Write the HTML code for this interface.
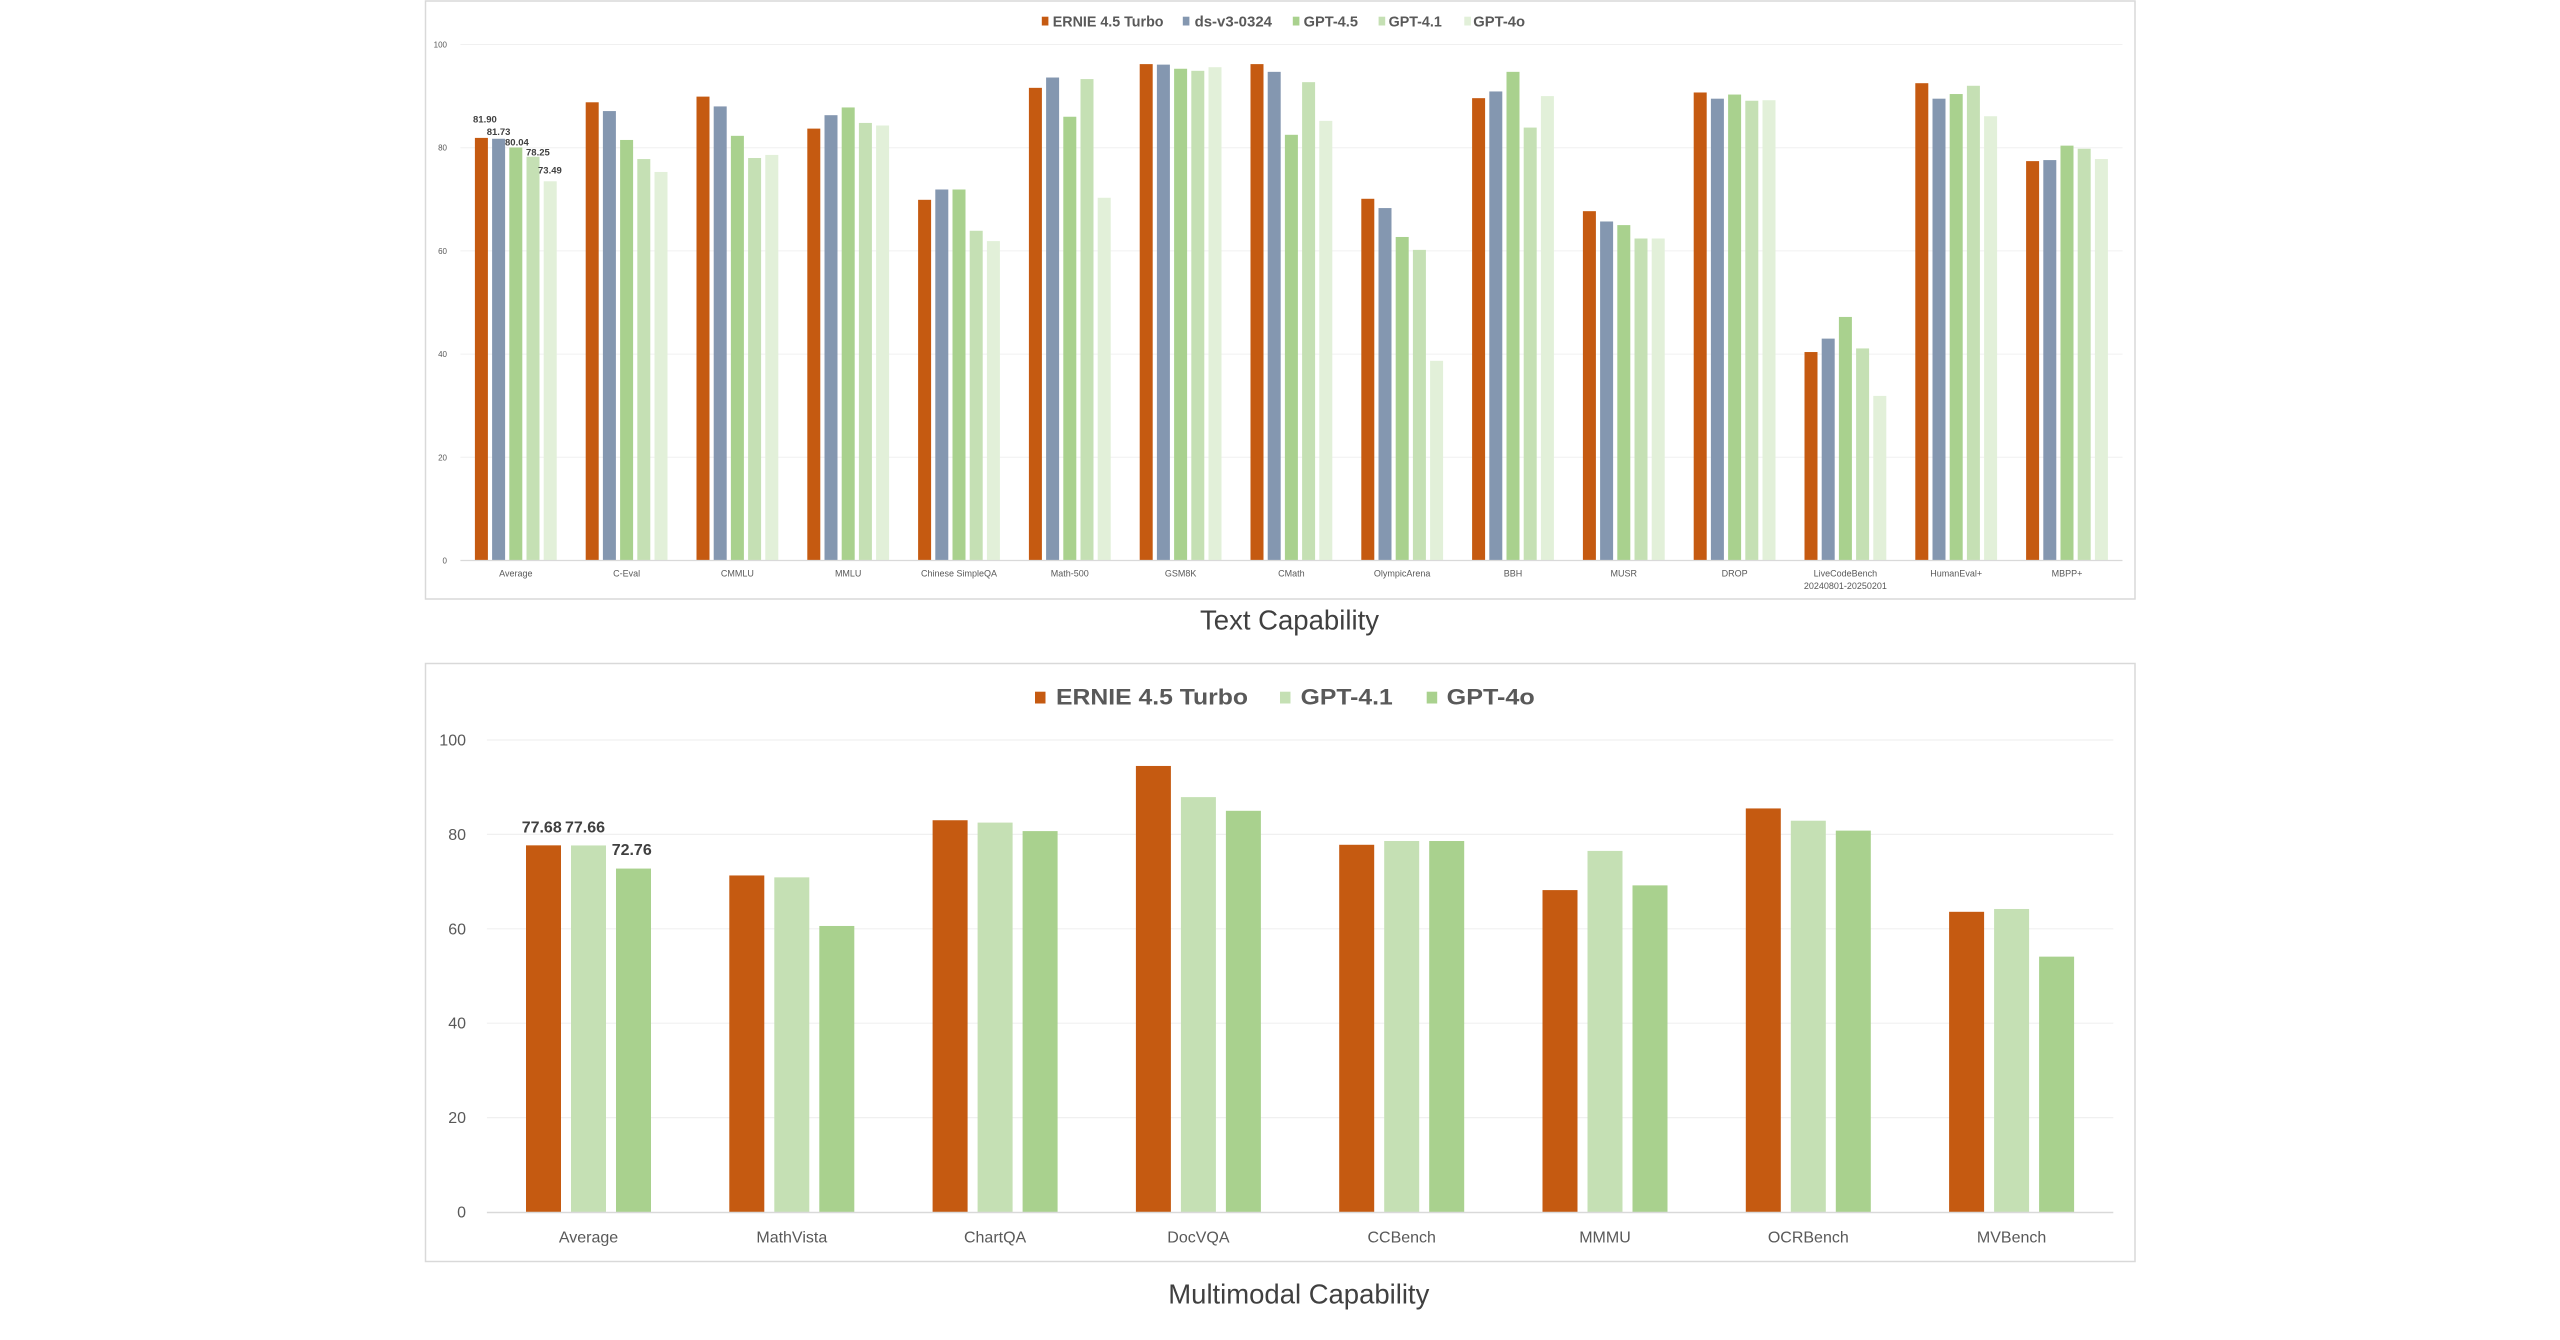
<!DOCTYPE html>
<html>
<head>
<meta charset="utf-8">
<style>
  html,body{margin:0;padding:0;background:#fff;}
  body{width:2560px;height:1340px;overflow:hidden;}
  svg{display:block;}
  text{font-family:"Liberation Sans", sans-serif;}
</style>
</head>
<body>
<svg width="2560" height="1340" viewBox="0 0 2560 1340" xmlns="http://www.w3.org/2000/svg">
  <rect x="0" y="0" width="2560" height="1340" fill="#ffffff"/>

  <!-- ================= TOP CHART ================= -->
  <rect x="425.5" y="1" width="1709.5" height="598" fill="#ffffff" stroke="#D9D9D9" stroke-width="1.5"/>

  <!-- gridlines -->
  <g stroke="#F0F0F0" stroke-width="1">
    <line x1="460.4" y1="44.5" x2="2122.5" y2="44.5"/>
    <line x1="460.4" y1="147.7" x2="2122.5" y2="147.7"/>
    <line x1="460.4" y1="250.9" x2="2122.5" y2="250.9"/>
    <line x1="460.4" y1="354.1" x2="2122.5" y2="354.1"/>
    <line x1="460.4" y1="457.3" x2="2122.5" y2="457.3"/>
  </g>

  <!-- y tick labels -->
  <g font-size="8" fill="#595959" text-anchor="end">
    <text x="447" y="47.5">100</text>
    <text x="447" y="150.7">80</text>
    <text x="447" y="253.9">60</text>
    <text x="447" y="357.1">40</text>
    <text x="447" y="460.3">20</text>
    <text x="447" y="563.5">0</text>
  </g>

  <!-- legend -->
  <g font-size="15" font-weight="bold" fill="#595959">
    <rect x="1041.8" y="16.7" width="6.6" height="8.8" fill="#C55A11"/>
    <text x="1052.8" y="26.5" textLength="110.7" lengthAdjust="spacingAndGlyphs">ERNIE 4.5 Turbo</text>
    <rect x="1182.8" y="16.7" width="6.6" height="8.8" fill="#8497B0"/>
    <text x="1194.6" y="26.5" textLength="77.4" lengthAdjust="spacingAndGlyphs">ds-v3-0324</text>
    <rect x="1292.8" y="16.7" width="6.6" height="8.8" fill="#A9D18E"/>
    <text x="1303.6" y="26.5" textLength="54.4" lengthAdjust="spacingAndGlyphs">GPT-4.5</text>
    <rect x="1378.6" y="16.7" width="6.6" height="8.8" fill="#C5E0B4"/>
    <text x="1388.6" y="26.5" textLength="53.2" lengthAdjust="spacingAndGlyphs">GPT-4.1</text>
    <rect x="1464.3" y="16.7" width="6.6" height="8.8" fill="#E2F0D9"/>
    <text x="1473.3" y="26.5" textLength="51.7" lengthAdjust="spacingAndGlyphs">GPT-4o</text>
  </g>

  <!-- bars (value units, scaled) -->
  <g>
    <g transform="translate(515.8,560.5) scale(1,-5.16)">
      <rect x="-40.9" y="0" width="13" height="81.90" fill="#C55A11"/>
      <rect x="-23.7" y="0" width="13" height="81.73" fill="#8497B0"/>
      <rect x="-6.5" y="0" width="13" height="80.04" fill="#A9D18E"/>
      <rect x="10.7" y="0" width="13" height="78.25" fill="#C5E0B4"/>
      <rect x="27.9" y="0" width="13" height="73.49" fill="#E2F0D9"/>
    </g>
    <g transform="translate(626.6,560.5) scale(1,-5.16)">
      <rect x="-40.9" y="0" width="13" height="88.8" fill="#C55A11"/>
      <rect x="-23.7" y="0" width="13" height="87.1" fill="#8497B0"/>
      <rect x="-6.5" y="0" width="13" height="81.5" fill="#A9D18E"/>
      <rect x="10.7" y="0" width="13" height="77.8" fill="#C5E0B4"/>
      <rect x="27.9" y="0" width="13" height="75.3" fill="#E2F0D9"/>
    </g>
    <g transform="translate(737.4,560.5) scale(1,-5.16)">
      <rect x="-40.9" y="0" width="13" height="89.9" fill="#C55A11"/>
      <rect x="-23.7" y="0" width="13" height="88.0" fill="#8497B0"/>
      <rect x="-6.5" y="0" width="13" height="82.3" fill="#A9D18E"/>
      <rect x="10.7" y="0" width="13" height="78.0" fill="#C5E0B4"/>
      <rect x="27.9" y="0" width="13" height="78.6" fill="#E2F0D9"/>
    </g>
    <g transform="translate(848.2,560.5) scale(1,-5.16)">
      <rect x="-40.9" y="0" width="13" height="83.7" fill="#C55A11"/>
      <rect x="-23.7" y="0" width="13" height="86.3" fill="#8497B0"/>
      <rect x="-6.5" y="0" width="13" height="87.8" fill="#A9D18E"/>
      <rect x="10.7" y="0" width="13" height="84.8" fill="#C5E0B4"/>
      <rect x="27.9" y="0" width="13" height="84.3" fill="#E2F0D9"/>
    </g>
    <g transform="translate(959.0,560.5) scale(1,-5.16)">
      <rect x="-40.9" y="0" width="13" height="69.9" fill="#C55A11"/>
      <rect x="-23.7" y="0" width="13" height="71.9" fill="#8497B0"/>
      <rect x="-6.5" y="0" width="13" height="71.9" fill="#A9D18E"/>
      <rect x="10.7" y="0" width="13" height="63.9" fill="#C5E0B4"/>
      <rect x="27.9" y="0" width="13" height="61.9" fill="#E2F0D9"/>
    </g>
    <g transform="translate(1069.8,560.5) scale(1,-5.16)">
      <rect x="-40.9" y="0" width="13" height="91.6" fill="#C55A11"/>
      <rect x="-23.7" y="0" width="13" height="93.6" fill="#8497B0"/>
      <rect x="-6.5" y="0" width="13" height="86.0" fill="#A9D18E"/>
      <rect x="10.7" y="0" width="13" height="93.3" fill="#C5E0B4"/>
      <rect x="27.9" y="0" width="13" height="70.3" fill="#E2F0D9"/>
    </g>
    <g transform="translate(1180.6,560.5) scale(1,-5.16)">
      <rect x="-40.9" y="0" width="13" height="96.2" fill="#C55A11"/>
      <rect x="-23.7" y="0" width="13" height="96.1" fill="#8497B0"/>
      <rect x="-6.5" y="0" width="13" height="95.3" fill="#A9D18E"/>
      <rect x="10.7" y="0" width="13" height="94.9" fill="#C5E0B4"/>
      <rect x="27.9" y="0" width="13" height="95.6" fill="#E2F0D9"/>
    </g>
    <g transform="translate(1291.4,560.5) scale(1,-5.16)">
      <rect x="-40.9" y="0" width="13" height="96.2" fill="#C55A11"/>
      <rect x="-23.7" y="0" width="13" height="94.7" fill="#8497B0"/>
      <rect x="-6.5" y="0" width="13" height="82.5" fill="#A9D18E"/>
      <rect x="10.7" y="0" width="13" height="92.7" fill="#C5E0B4"/>
      <rect x="27.9" y="0" width="13" height="85.2" fill="#E2F0D9"/>
    </g>
    <g transform="translate(1402.2,560.5) scale(1,-5.16)">
      <rect x="-40.9" y="0" width="13" height="70.1" fill="#C55A11"/>
      <rect x="-23.7" y="0" width="13" height="68.3" fill="#8497B0"/>
      <rect x="-6.5" y="0" width="13" height="62.7" fill="#A9D18E"/>
      <rect x="10.7" y="0" width="13" height="60.2" fill="#C5E0B4"/>
      <rect x="27.9" y="0" width="13" height="38.7" fill="#E2F0D9"/>
    </g>
    <g transform="translate(1513.0,560.5) scale(1,-5.16)">
      <rect x="-40.9" y="0" width="13" height="89.6" fill="#C55A11"/>
      <rect x="-23.7" y="0" width="13" height="90.9" fill="#8497B0"/>
      <rect x="-6.5" y="0" width="13" height="94.7" fill="#A9D18E"/>
      <rect x="10.7" y="0" width="13" height="83.9" fill="#C5E0B4"/>
      <rect x="27.9" y="0" width="13" height="90.0" fill="#E2F0D9"/>
    </g>
    <g transform="translate(1623.8,560.5) scale(1,-5.16)">
      <rect x="-40.9" y="0" width="13" height="67.7" fill="#C55A11"/>
      <rect x="-23.7" y="0" width="13" height="65.7" fill="#8497B0"/>
      <rect x="-6.5" y="0" width="13" height="65.0" fill="#A9D18E"/>
      <rect x="10.7" y="0" width="13" height="62.4" fill="#C5E0B4"/>
      <rect x="27.9" y="0" width="13" height="62.4" fill="#E2F0D9"/>
    </g>
    <g transform="translate(1734.6,560.5) scale(1,-5.16)">
      <rect x="-40.9" y="0" width="13" height="90.7" fill="#C55A11"/>
      <rect x="-23.7" y="0" width="13" height="89.5" fill="#8497B0"/>
      <rect x="-6.5" y="0" width="13" height="90.3" fill="#A9D18E"/>
      <rect x="10.7" y="0" width="13" height="89.1" fill="#C5E0B4"/>
      <rect x="27.9" y="0" width="13" height="89.2" fill="#E2F0D9"/>
    </g>
    <g transform="translate(1845.4,560.5) scale(1,-5.16)">
      <rect x="-40.9" y="0" width="13" height="40.4" fill="#C55A11"/>
      <rect x="-23.7" y="0" width="13" height="43.0" fill="#8497B0"/>
      <rect x="-6.5" y="0" width="13" height="47.2" fill="#A9D18E"/>
      <rect x="10.7" y="0" width="13" height="41.1" fill="#C5E0B4"/>
      <rect x="27.9" y="0" width="13" height="31.9" fill="#E2F0D9"/>
    </g>
    <g transform="translate(1956.2,560.5) scale(1,-5.16)">
      <rect x="-40.9" y="0" width="13" height="92.5" fill="#C55A11"/>
      <rect x="-23.7" y="0" width="13" height="89.5" fill="#8497B0"/>
      <rect x="-6.5" y="0" width="13" height="90.4" fill="#A9D18E"/>
      <rect x="10.7" y="0" width="13" height="92.0" fill="#C5E0B4"/>
      <rect x="27.9" y="0" width="13" height="86.1" fill="#E2F0D9"/>
    </g>
    <g transform="translate(2067.0,560.5) scale(1,-5.16)">
      <rect x="-40.9" y="0" width="13" height="77.4" fill="#C55A11"/>
      <rect x="-23.7" y="0" width="13" height="77.6" fill="#8497B0"/>
      <rect x="-6.5" y="0" width="13" height="80.4" fill="#A9D18E"/>
      <rect x="10.7" y="0" width="13" height="79.8" fill="#C5E0B4"/>
      <rect x="27.9" y="0" width="13" height="77.8" fill="#E2F0D9"/>
    </g>
  </g>

  <!-- axis line -->
  <line x1="460.4" y1="560.5" x2="2122.5" y2="560.5" stroke="#D9D9D9" stroke-width="1.2"/>

  <!-- data labels (Average) -->
  <g font-size="9.5" font-weight="bold" fill="#404040">
    <text x="473" y="122.5">81.90</text>
    <text x="486.7" y="135">81.73</text>
    <text x="505" y="145.7">80.04</text>
    <text x="526" y="155.7">78.25</text>
    <text x="538" y="173.3">73.49</text>
  </g>

  <!-- category labels -->
  <g font-size="9" fill="#595959" text-anchor="middle">
    <text x="515.8" y="576.5">Average</text>
    <text x="626.6" y="576.5">C-Eval</text>
    <text x="737.4" y="576.5">CMMLU</text>
    <text x="848.2" y="576.5">MMLU</text>
    <text x="959.0" y="576.5">Chinese SimpleQA</text>
    <text x="1069.8" y="576.5">Math-500</text>
    <text x="1180.6" y="576.5">GSM8K</text>
    <text x="1291.4" y="576.5">CMath</text>
    <text x="1402.2" y="576.5">OlympicArena</text>
    <text x="1513.0" y="576.5">BBH</text>
    <text x="1623.8" y="576.5">MUSR</text>
    <text x="1734.6" y="576.5">DROP</text>
    <text x="1845.4" y="576.5">LiveCodeBench</text>
    <text x="1845.4" y="589">20240801-20250201</text>
    <text x="1956.2" y="576.5">HumanEval+</text>
    <text x="2067.0" y="576.5">MBPP+</text>
  </g>

  <!-- Title -->
  <text x="1289.5" y="629.5" font-size="28" fill="#404040" text-anchor="middle" textLength="179" lengthAdjust="spacingAndGlyphs">Text Capability</text>

  <!-- ================= BOTTOM CHART ================= -->
  <rect x="425.5" y="663.5" width="1709.5" height="598" fill="#ffffff" stroke="#D9D9D9" stroke-width="1.5"/>

  <g stroke="#F0F0F0" stroke-width="1.2">
    <line x1="486.9" y1="740" x2="2113.3" y2="740"/>
    <line x1="486.9" y1="834.4" x2="2113.3" y2="834.4"/>
    <line x1="486.9" y1="928.8" x2="2113.3" y2="928.8"/>
    <line x1="486.9" y1="1023.2" x2="2113.3" y2="1023.2"/>
    <line x1="486.9" y1="1117.6" x2="2113.3" y2="1117.6"/>
  </g>

  <g font-size="16" fill="#595959" text-anchor="end">
    <text x="466" y="745.5">100</text>
    <text x="466" y="839.9">80</text>
    <text x="466" y="934.3">60</text>
    <text x="466" y="1028.7">40</text>
    <text x="466" y="1123.1">20</text>
    <text x="466" y="1217.5">0</text>
  </g>

  <!-- legend -->
  <g font-size="22" font-weight="bold" fill="#595959">
    <rect x="1035" y="691.7" width="10.5" height="11.8" fill="#C55A11"/>
    <text x="1056" y="704.3" textLength="192" lengthAdjust="spacingAndGlyphs">ERNIE 4.5 Turbo</text>
    <rect x="1280" y="691.7" width="10.5" height="11.8" fill="#C5E0B4"/>
    <text x="1300.7" y="704.3" textLength="92" lengthAdjust="spacingAndGlyphs">GPT-4.1</text>
    <rect x="1426.7" y="691.7" width="10.5" height="11.8" fill="#A9D18E"/>
    <text x="1446.7" y="704.3" textLength="88" lengthAdjust="spacingAndGlyphs">GPT-4o</text>
  </g>

  <g>
    <g transform="translate(588.5,1212) scale(1,-4.72)">
      <rect x="-62.5" y="0" width="35" height="77.68" fill="#C55A11"/>
      <rect x="-17.5" y="0" width="35" height="77.66" fill="#C5E0B4"/>
      <rect x="27.5" y="0" width="35" height="72.76" fill="#A9D18E"/>
    </g>
    <g transform="translate(791.8,1212) scale(1,-4.72)">
      <rect x="-62.5" y="0" width="35" height="71.3" fill="#C55A11"/>
      <rect x="-17.5" y="0" width="35" height="70.9" fill="#C5E0B4"/>
      <rect x="27.5" y="0" width="35" height="60.6" fill="#A9D18E"/>
    </g>
    <g transform="translate(995.1,1212) scale(1,-4.72)">
      <rect x="-62.5" y="0" width="35" height="83.0" fill="#C55A11"/>
      <rect x="-17.5" y="0" width="35" height="82.5" fill="#C5E0B4"/>
      <rect x="27.5" y="0" width="35" height="80.7" fill="#A9D18E"/>
    </g>
    <g transform="translate(1198.4,1212) scale(1,-4.72)">
      <rect x="-62.5" y="0" width="35" height="94.5" fill="#C55A11"/>
      <rect x="-17.5" y="0" width="35" height="87.9" fill="#C5E0B4"/>
      <rect x="27.5" y="0" width="35" height="85.0" fill="#A9D18E"/>
    </g>
    <g transform="translate(1401.7,1212) scale(1,-4.72)">
      <rect x="-62.5" y="0" width="35" height="77.8" fill="#C55A11"/>
      <rect x="-17.5" y="0" width="35" height="78.6" fill="#C5E0B4"/>
      <rect x="27.5" y="0" width="35" height="78.6" fill="#A9D18E"/>
    </g>
    <g transform="translate(1605.0,1212) scale(1,-4.72)">
      <rect x="-62.5" y="0" width="35" height="68.2" fill="#C55A11"/>
      <rect x="-17.5" y="0" width="35" height="76.5" fill="#C5E0B4"/>
      <rect x="27.5" y="0" width="35" height="69.2" fill="#A9D18E"/>
    </g>
    <g transform="translate(1808.3,1212) scale(1,-4.72)">
      <rect x="-62.5" y="0" width="35" height="85.5" fill="#C55A11"/>
      <rect x="-17.5" y="0" width="35" height="82.9" fill="#C5E0B4"/>
      <rect x="27.5" y="0" width="35" height="80.8" fill="#A9D18E"/>
    </g>
    <g transform="translate(2011.6,1212) scale(1,-4.72)">
      <rect x="-62.5" y="0" width="35" height="63.6" fill="#C55A11"/>
      <rect x="-17.5" y="0" width="35" height="64.2" fill="#C5E0B4"/>
      <rect x="27.5" y="0" width="35" height="54.1" fill="#A9D18E"/>
    </g>
  </g>

  <line x1="486.9" y1="1212.5" x2="2113.3" y2="1212.5" stroke="#D9D9D9" stroke-width="1.5"/>

  <g font-size="16" font-weight="bold" fill="#404040">
    <text x="521.7" y="832.7">77.68</text>
    <text x="565" y="832.7">77.66</text>
    <text x="611.7" y="855">72.76</text>
  </g>

  <g font-size="16" fill="#595959" text-anchor="middle">
    <text x="588.5" y="1242.5">Average</text>
    <text x="791.8" y="1242.5">MathVista</text>
    <text x="995.1" y="1242.5">ChartQA</text>
    <text x="1198.4" y="1242.5">DocVQA</text>
    <text x="1401.7" y="1242.5">CCBench</text>
    <text x="1605.0" y="1242.5">MMMU</text>
    <text x="1808.3" y="1242.5">OCRBench</text>
    <text x="2011.6" y="1242.5">MVBench</text>
  </g>

  <text x="1298.8" y="1303.5" font-size="28" fill="#404040" text-anchor="middle" textLength="261" lengthAdjust="spacingAndGlyphs">Multimodal Capability</text>
</svg>
</body>
</html>
